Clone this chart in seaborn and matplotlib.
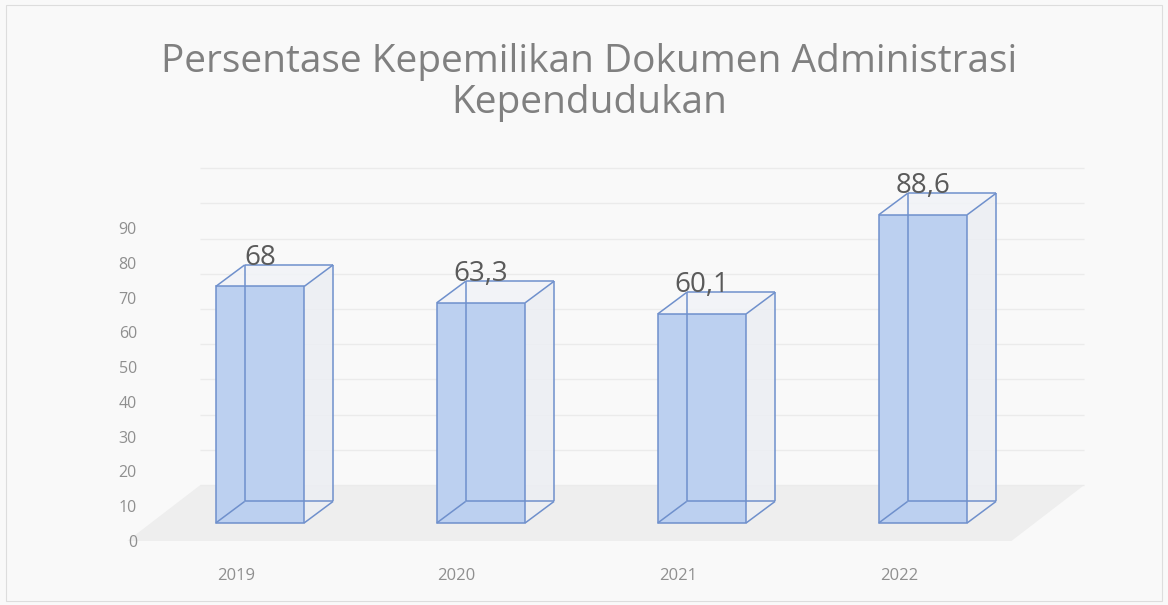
import numpy as np
import matplotlib
matplotlib.use("Agg")
import matplotlib.pyplot as plt
from matplotlib.patches import Polygon, Rectangle
import seaborn as sns

# Data
years = ["2019", "2020", "2021", "2022"]
values = [68.0, 63.3, 60.1, 88.6]
y_ticks = [0, 10, 20, 30, 40, 50, 60, 70, 80, 90]
title_lines = ["Persentase Kepemilikan Dokumen Administrasi", "Kependudukan"]

# Styling
BG = "#f9f9f9"
FRONT = "#bcd0f0"
EDGE = "#6f90cc"
SIDE = "#eceef3"
TOP = "#f1f3f7"
FLOOR = "#eeeeee"
GRID = "#ebebeb"
TITLE_C = "#808080"
LABEL_C = "#5a5a5a"
TICK_C = "#8f8f8f"

# pseudo-3D geometry (in data units)
BASE = 5.2           # front face starts above the floor's front edge
DX, DY = 0.131, 6.2  # depth offset of each box
FLOOR_L, FLOOR_X, FLOOR_Y = -0.6, 0.33, 16.1
LABEL_SHIFT = -0.11

sns.set_style("white")
plt.rcParams["font.family"] = ["Open Sans", "DejaVu Sans"]

fig = plt.figure(figsize=(11.68, 6.05), dpi=100, facecolor=BG)
ax = fig.add_axes([145 / 1168, 45 / 605, 955 / 1168, 410 / 605])
ax.set_facecolor("none")

# front faces of the boxes
sns.barplot(x=years, y=values, width=0.4, bottom=BASE, color=FRONT,
            saturation=1, edgecolor=EDGE, linewidth=1.1, ax=ax, zorder=3)

n = len(years)
bars = list(ax.containers[0])

# floor
floor = Polygon([(FLOOR_L, 0), (FLOOR_L + n, 0),
                 (FLOOR_L + n + FLOOR_X, FLOOR_Y), (FLOOR_L + FLOOR_X, FLOOR_Y)],
                closed=True, facecolor=FLOOR, edgecolor="none", zorder=0.5,
                clip_on=False)
ax.add_patch(floor)

# back-wall gridlines
ax.hlines([FLOOR_Y + t * 1.012 for t in y_ticks],
          FLOOR_L + FLOOR_X, FLOOR_L + n + FLOOR_X,
          color=GRID, lw=1.0, zorder=0.6)

for rect, v in zip(bars, values):
    x0, w = rect.get_x(), rect.get_width()
    y0, h = rect.get_y(), rect.get_height()
    x1, y1 = x0 + w, y0 + h
    # right side face
    ax.add_patch(Polygon([(x1, y0), (x1 + DX, y0 + DY), (x1 + DX, y1 + DY), (x1, y1)],
                         closed=True, facecolor=SIDE, edgecolor="none", alpha=0.85, zorder=2))
    # top face
    ax.add_patch(Polygon([(x0, y1), (x0 + DX, y1 + DY), (x1 + DX, y1 + DY), (x1, y1)],
                         closed=True, facecolor=TOP, edgecolor="none", alpha=0.85, zorder=2))
    # box edges
    segs = [
        [(x0, y0), (x0 + DX, y0 + DY)], [(x1, y0), (x1 + DX, y0 + DY)],
        [(x0, y1), (x0 + DX, y1 + DY)], [(x1, y1), (x1 + DX, y1 + DY)],
        [(x0 + DX, y0 + DY), (x1 + DX, y0 + DY)], [(x0 + DX, y1 + DY), (x1 + DX, y1 + DY)],
        [(x0 + DX, y0 + DY), (x0 + DX, y1 + DY)], [(x1 + DX, y0 + DY), (x1 + DX, y1 + DY)],
    ]
    for (xa, ya), (xb, yb) in segs:
        ax.plot([xa, xb], [ya, yb], color=EDGE, lw=1.1, zorder=4, solid_capstyle="butt")
    # value label
    ax.text(x0 + w / 2, y1 + DY, f"{v:g}".replace(".", ","), ha="center", va="baseline",
            fontsize=20, color=LABEL_C, zorder=5)

ax.set_xlim(-0.5204, 3.8009)
ax.set_ylim(-5.463, 112.42)
ax.set_yticks(y_ticks, labels=[str(t) for t in y_ticks])
ax.set_xticks(np.arange(n) + LABEL_SHIFT, labels=years)
ax.tick_params(axis="y", length=0, pad=5.8, labelsize=11.5, labelcolor=TICK_C)
ax.tick_params(axis="x", length=0, pad=6, labelsize=12, labelcolor=TICK_C)
ax.set_xlabel("")
ax.set_ylabel("")
for sp in ax.spines.values():
    sp.set_visible(False)
ax.grid(False)

for line, yc in zip(title_lines, [62, 103]):
    fig.text(589 / 1168, 1 - yc / 605, line, ha="center", va="center",
             fontsize=28, color=TITLE_C)

fig.add_artist(Rectangle((6 / 1168, 4 / 605), 1 - 12 / 1168, 1 - 9 / 605,
                         transform=fig.transFigure, fill=False, ec="#dddddd", lw=0.8))

fig.savefig("out.png", dpi=100, facecolor=BG)
